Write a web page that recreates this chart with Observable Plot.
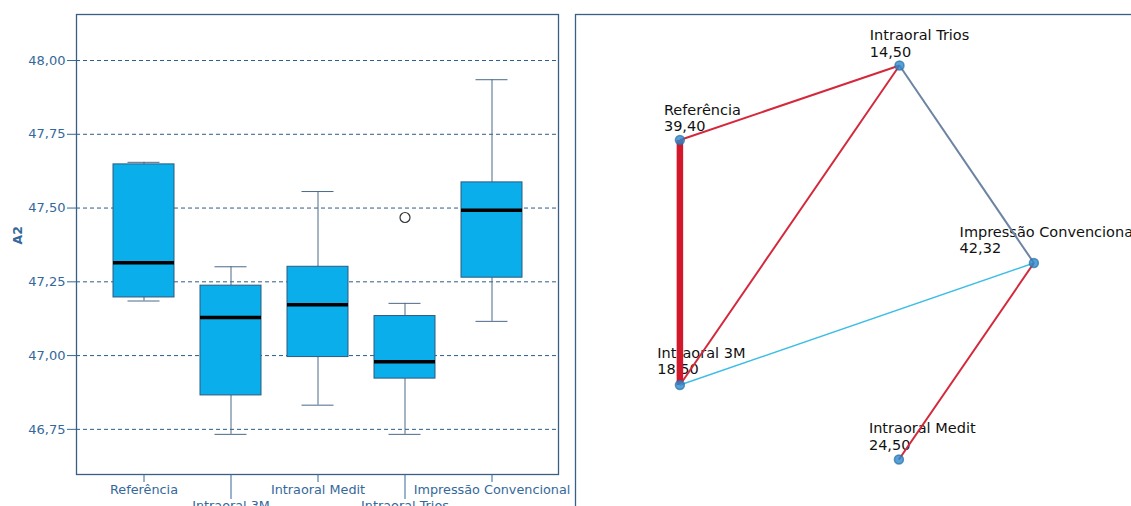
<!DOCTYPE html>
<html>
<head>
<meta charset="utf-8">
<script src="https://cdn.jsdelivr.net/npm/d3@7"></script>
<script src="https://cdn.jsdelivr.net/npm/@observablehq/plot@0.6"></script>
<style>
  html, body { margin: 0; padding: 0; background: #fff; overflow: hidden; }
  #wrap { position: relative; width: 1131px; height: 506px; overflow: hidden; }
  #box, #net { position: absolute; top: 0; }
  #box { left: 0; width: 570px; }
  #net { left: 574px; width: 601px; }
  #box svg, #net svg { max-width: none !important; }
</style>
</head>
<body>
<div id="wrap"><div id="box"></div><div id="net"></div></div>
<script>
// Box plot of A2 per impression method (summary statistics)
const groups   = ["Referência", "Intraoral 3M", "Intraoral Medit", "Intraoral Trios", "Impressão Convencional"];
const whiskLo  = [47.185, 46.733, 46.832, 46.733, 47.116];
const q1       = [47.197, 46.865, 46.995, 46.922, 47.264];
const median   = [47.315, 47.129, 47.172, 46.979, 47.493];
const q3       = [47.648, 47.237, 47.301, 47.134, 47.587];
const whiskHi  = [47.655, 47.301, 47.556, 47.177, 47.935];
const outlierGroup = ["Intraoral Trios"];
const outlierValue = [47.468];
const yTicks = [46.75, 47.00, 47.25, 47.50, 47.75, 48.00];

// Pairwise comparison network: mean rank per node, layout position, edges
const nodeName = ["Referência", "Intraoral 3M", "Intraoral Trios", "Impressão Convencional", "Intraoral Medit"];
const nodeRank = ["39,40", "18,50", "14,50", "42,32", "24,50"];
const nodeLayoutX = [17.4, 17.4, 54.0, 76.4, 53.9];
const nodeLayoutY = [25.1, 74.1, 10.2, 49.7, 89.0];
const edgeFrom = ["Referência", "Referência", "Intraoral 3M", "Intraoral Trios", "Intraoral 3M", "Impressão Convencional"];
const edgeTo   = ["Intraoral 3M", "Intraoral Trios", "Intraoral Trios", "Impressão Convencional", "Impressão Convencional", "Intraoral Medit"];
const edgeKind = ["strong", "sig", "sig", "neutral", "weak", "sig"];

const comma = v => d3.format(".2f")(v).replace(".", ",");
const rows = groups.map((g, i) => ({g, lo: whiskLo[i], q1: q1[i], med: median[i], q3: q3[i], hi: whiskHi[i]}));
const outliers = outlierGroup.map((g, i) => ({g, v: outlierValue[i]}));

const axisBlue = "#35689a";
const frameCol = "#3a5f82";
const boxStroke = "#2f5a80";

const boxPlot = Plot.plot({
  width: 570,
  height: 506,
  marginLeft: 76,
  marginRight: 12,
  marginTop: 14,
  marginBottom: 32,
  style: {fontFamily: "DejaVu Sans, sans-serif", background: "transparent"},
  x: {type: "band", domain: groups, paddingInner: 0.3, paddingOuter: 0.42},
  y: {domain: [46.597, 48.156]},
  marks: [
    Plot.ruleY(yTicks, {stroke: "#2c5d8a", strokeDasharray: "4,3", strokeWidth: 1}),
    Plot.ruleX(rows, {x: "g", y1: "lo", y2: "q1", stroke: "#4a6a88", strokeWidth: 1}),
    Plot.ruleX(rows, {x: "g", y1: "q3", y2: "hi", stroke: "#4a6a88", strokeWidth: 1}),
    Plot.tickY(rows, {x: "g", y: "lo", stroke: "#4a6a88", strokeWidth: 1, insetLeft: 14.5, insetRight: 14.5}),
    Plot.tickY(rows, {x: "g", y: "hi", stroke: "#4a6a88", strokeWidth: 1, insetLeft: 14.5, insetRight: 14.5}),
    Plot.barY(rows, {x: "g", y1: "q1", y2: "q3", fill: "#0aaeea", stroke: boxStroke, strokeWidth: 1}),
    Plot.tickY(rows, {x: "g", y: "med", stroke: "#000", strokeWidth: 3.5}),
    Plot.dot(outliers, {x: "g", y: "v", r: 5, fill: "#fff", stroke: "#333", strokeWidth: 1.2}),
    Plot.frame({stroke: frameCol, strokeWidth: 1.3}),
    Plot.axisY({ticks: yTicks, tickFormat: comma, tickSize: 9, tickPadding: 2, fontSize: 13, color: axisBlue, label: null}),
    Plot.axisX({ticks: groups.filter((d, i) => i % 2 === 0), tickSize: 8, tickPadding: 2, fontSize: 12.8, color: axisBlue, label: null}),
    Plot.axisX({ticks: groups.filter((d, i) => i % 2 === 1), tickSize: 25, tickPadding: 1, fontSize: 12.8, color: axisBlue, label: null}),
    Plot.text(["A2"], {frameAnchor: "left", rotate: -90, dx: -59, fontSize: 12.5, fontWeight: "bold", fill: axisBlue})
  ]
});
document.getElementById("box").appendChild(boxPlot);

// Network panel
const nodes = nodeName.map((n, i) => ({n, label: `${n}\n${nodeRank[i]}`, x: nodeLayoutX[i], y: nodeLayoutY[i]}));
const byName = new Map(nodes.map(d => [d.n, d]));
const edges = edgeFrom.map((f, i) => ({a: byName.get(f), b: byName.get(edgeTo[i]), kind: edgeKind[i]}));
const edgeColor = {strong: "#d4182b", sig: "#d4283c", neutral: "#6d84a3", weak: "#3cbde6"};
const edgeWidth = {strong: 6.5, sig: 2, neutral: 2, weak: 1.4};
const labelDx = [-16, -22.6, -29.7, -74.3, -30];
const labelDy = [-9, -11, -9, -10, -10];

const netPlot = Plot.plot({
  width: 601,
  height: 514,
  marginLeft: 1,
  marginRight: 0,
  marginTop: 14,
  marginBottom: 0,
  style: {fontFamily: "DejaVu Sans, sans-serif", background: "transparent"},
  x: {domain: [0, 100], axis: null},
  y: {domain: [0, 100], reverse: true, axis: null},
  marks: [
    Plot.frame({stroke: frameCol, strokeWidth: 1.3}),
    Plot.text(nodes, {x: "x", y: "y", text: "label", textAnchor: "start", lineAnchor: "bottom",
      lineHeight: 1.12, fontSize: 14.5, fill: "#111"}),
    Plot.link(edges, {x1: d => d.a.x, y1: d => d.a.y, x2: d => d.b.x, y2: d => d.b.y,
      stroke: d => edgeColor[d.kind], strokeWidth: d => edgeWidth[d.kind]}),
    Plot.dot(nodes, {x: "x", y: "y", r: 4.5, fill: "#2b8ad0", fillOpacity: 0.8, stroke: "#2a6f9e", strokeOpacity: 0.7})
  ]
});
// per-node label offsets
d3.select(netPlot).selectAll("g[aria-label=text] text").each(function(d, i) {
  const t = d3.select(this);
  const tr = t.attr("transform") || "";
  t.attr("transform", `${tr} translate(${labelDx[i]},${labelDy[i]})`);
});
document.getElementById("net").appendChild(netPlot);
</script>
</body>
</html>
